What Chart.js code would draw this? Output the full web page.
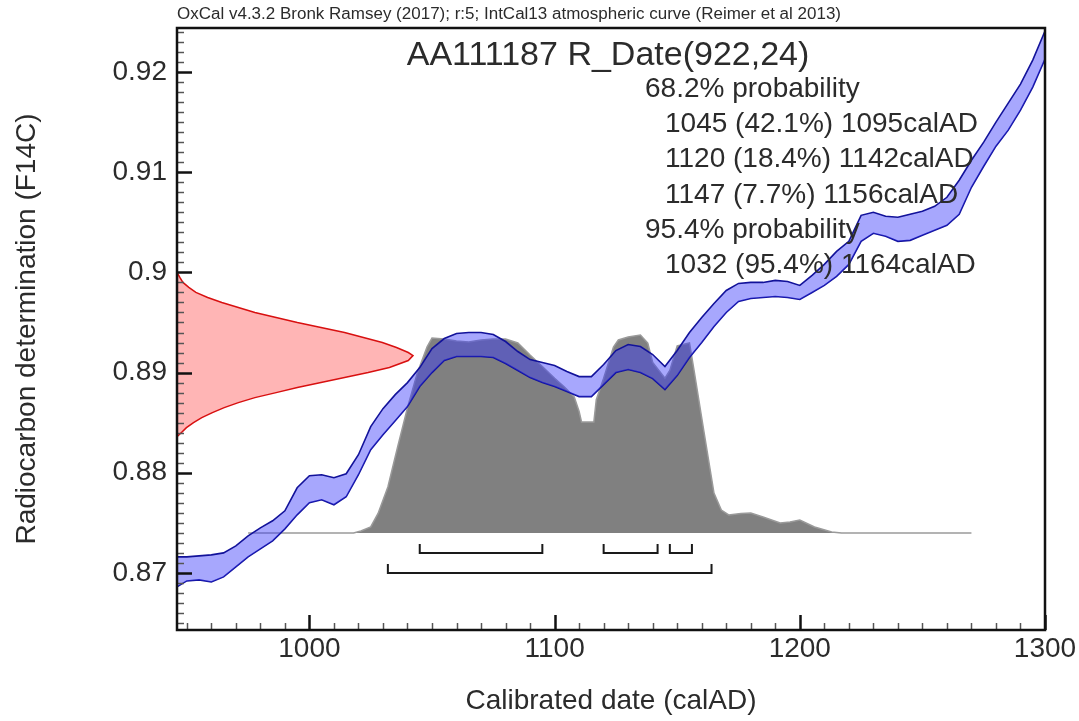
<!DOCTYPE html>
<html>
<head>
<meta charset="utf-8">
<title>AA111187 R_Date(922,24)</title>
<script src="https://cdn.jsdelivr.net/npm/chart.js@4.4.1/dist/chart.umd.min.js"></script>
<style>
  html, body { margin: 0; padding: 0; background: #ffffff; }
  canvas { display: block; }
</style>
</head>
<body>
<canvas id="c" width="1079" height="721"></canvas>
<script>
// IntCal13 calibration curve band (F14C), upper and lower 1-sigma edges
const curveYears = [946, 950, 955, 960, 965, 970, 975, 980, 985, 990, 995, 1000, 1005, 1010, 1015, 1020, 1025, 1030,
  1035, 1040, 1045, 1050, 1055, 1060, 1065, 1070, 1075, 1080, 1085, 1090, 1095, 1100, 1105, 1110, 1115, 1120, 1125,
  1130, 1135, 1140, 1145, 1150, 1155, 1160, 1165, 1170, 1175, 1180, 1185, 1190, 1195, 1200, 1205, 1210, 1215, 1220,
  1225, 1230, 1235, 1240, 1245, 1250, 1255, 1260, 1265, 1270, 1275, 1280, 1285, 1290, 1295, 1300];
const curveUpper = [0.8716, 0.8716, 0.8717, 0.8718, 0.8720, 0.8727, 0.8737, 0.8745, 0.8752, 0.8762, 0.8785, 0.8797,
  0.8798, 0.8795, 0.8799, 0.8818, 0.8846, 0.8864, 0.8878, 0.8890, 0.8905, 0.8924, 0.8934, 0.8939, 0.8940, 0.8940,
  0.8938, 0.8931, 0.8921, 0.8913, 0.8910, 0.8907, 0.8901, 0.8896, 0.8896, 0.8908, 0.8922, 0.8928, 0.8926, 0.8918,
  0.8906, 0.8922, 0.8940, 0.8955, 0.8969, 0.8982, 0.8989, 0.8990, 0.8990, 0.8992, 0.8991, 0.8987, 0.8997, 0.9008,
  0.9021, 0.9031, 0.9057, 0.9060, 0.9056, 0.9055, 0.9058, 0.9061, 0.9066, 0.9075, 0.9092, 0.9112, 0.9130, 0.9150,
  0.9169, 0.9188, 0.9212, 0.9241];
const curveLower = [0.8686, 0.8692, 0.8693, 0.8691, 0.8696, 0.8706, 0.8716, 0.8724, 0.8732, 0.8744, 0.8758, 0.8770,
  0.8773, 0.8768, 0.8776, 0.8798, 0.8823, 0.8838, 0.8852, 0.8866, 0.8886, 0.8900, 0.8912, 0.8916, 0.8916, 0.8916,
  0.8915, 0.8909, 0.8902, 0.8895, 0.8890, 0.8886, 0.8881, 0.8876, 0.8876, 0.8888, 0.8900, 0.8903, 0.8900, 0.8894,
  0.8883, 0.8897, 0.8915, 0.8930, 0.8946, 0.8960, 0.8971, 0.8974, 0.8975, 0.8976, 0.8975, 0.8973, 0.8980, 0.8987,
  0.8996, 0.9008, 0.9031, 0.9039, 0.9036, 0.9031, 0.9032, 0.9037, 0.9042, 0.9047, 0.9058, 0.9085, 0.9106, 0.9126,
  0.9142, 0.9162, 0.9185, 0.9213];

// Calibrated date distribution (relative probability, peak = 1)
const postYears = [975, 1018, 1021, 1025, 1028, 1032, 1036, 1040, 1044, 1048, 1050, 1055, 1060, 1065, 1070, 1075,
  1080, 1085, 1090, 1095, 1100, 1104, 1108, 1110, 1111, 1116, 1117, 1120, 1124, 1126, 1130, 1135, 1138, 1140, 1145,
  1147, 1150, 1155, 1157, 1161, 1165, 1168, 1171, 1176, 1180, 1185, 1192, 1196, 1200, 1206, 1213, 1217, 1270];
const postDensity = [0, 0, 0.01, 0.031, 0.10, 0.235, 0.44, 0.64, 0.816, 0.95, 0.995, 0.99, 0.98, 0.975, 0.985, 0.99,
  0.99, 0.97, 0.908, 0.85, 0.79, 0.745, 0.694, 0.62, 0.566, 0.566, 0.68, 0.79, 0.949, 0.985, 1.0, 1.01, 0.969, 0.87,
  0.79, 0.83, 0.955, 0.97, 0.82, 0.51, 0.204, 0.117, 0.092, 0.10, 0.102, 0.082, 0.051, 0.056, 0.066, 0.031, 0.005, 0, 0];

// Radiocarbon measurement likelihood (F14C against relative density)
const likeF14C = [0.9000, 0.8995, 0.8990, 0.8985, 0.8980, 0.8975, 0.8970, 0.8965, 0.8960, 0.8955, 0.8950, 0.8945,
  0.8940, 0.8935, 0.8930, 0.8925, 0.8920, 0.8917, 0.8912, 0.8905, 0.8900, 0.8895, 0.8890, 0.8885, 0.8880, 0.8875,
  0.8870, 0.8865, 0.8860, 0.8855, 0.8850, 0.8845, 0.8840, 0.8836];
const likeDensity = [0, 0.012, 0.025, 0.05, 0.08, 0.13, 0.19, 0.26, 0.33, 0.42, 0.51, 0.61, 0.71, 0.79, 0.87, 0.93,
  0.98, 1.0, 0.98, 0.90, 0.81, 0.71, 0.61, 0.51, 0.42, 0.33, 0.26, 0.20, 0.15, 0.105, 0.07, 0.04, 0.018, 0];

// Highest probability density ranges (calAD)
const range68 = [[1045, 1095], [1120, 1142], [1147, 1156]];
const range95 = [[1032, 1164]];

// Axis labels
const xTickLabels = ['1000', '1100', '1200', '1300'];
const yTickLabels = ['0.87', '0.88', '0.89', '0.9', '0.91', '0.92'];

// Annotation text
const headerText = 'OxCal v4.3.2 Bronk Ramsey (2017); r:5; IntCal13 atmospheric curve (Reimer et al 2013)';
const sampleTitle = 'AA111187 R_Date(922,24)';
const rangeText = [
  { text: '68.2% probability', indent: 0 },
  { text: '1045 (42.1%) 1095calAD', indent: 1 },
  { text: '1120 (18.4%) 1142calAD', indent: 1 },
  { text: '1147 (7.7%) 1156calAD', indent: 1 },
  { text: '95.4% probability', indent: 0 },
  { text: '1032 (95.4%) 1164calAD', indent: 1 }
];

const FONT = "'Liberation Sans', Arial, sans-serif";

// Bracket polylines for the ranges, drawn on the probability axis below the baseline
function bracketPoints(ranges, lineLevel, tickLevel) {
  const pts = [];
  ranges.forEach(([a, b]) => {
    pts.push({ x: a, y: tickLevel }, { x: a, y: lineLevel }, { x: b, y: lineLevel }, { x: b, y: tickLevel });
    pts.push({ x: b, y: null });
  });
  return pts;
}

// Inward tick marks and the plot frame
const frameAndTicks = {
  id: 'frameAndTicks',
  afterDatasetsDraw(chart) {
    const { ctx, chartArea: a, scales } = chart;
    ctx.save();
    scales.y.ticks.forEach(t => {
      const py = Math.round(scales.y.getPixelForValue(t.value)) + 0.5;
      const major = t.label !== '';
      ctx.strokeStyle = major ? '#111' : '#555';
      ctx.lineWidth = major ? 2.5 : 1.5;
      ctx.beginPath();
      ctx.moveTo(a.left, py);
      ctx.lineTo(a.left + (major ? 15 : 7), py);
      ctx.stroke();
    });
    scales.x.ticks.forEach(t => {
      const px = Math.round(scales.x.getPixelForValue(t.value)) + 0.5;
      const major = t.label !== '';
      ctx.strokeStyle = major ? '#111' : '#555';
      ctx.lineWidth = major ? 2.5 : 1.5;
      ctx.beginPath();
      ctx.moveTo(px, a.bottom);
      ctx.lineTo(px, a.bottom - (major ? 15 : 7));
      ctx.stroke();
    });
    ctx.strokeStyle = '#111';
    ctx.lineWidth = 2.5;
    ctx.strokeRect(a.left, a.top, a.right - a.left, a.bottom - a.top);
    ctx.restore();
  }
};

// Header, sample name and range listing
const annotations = {
  id: 'annotations',
  afterDraw(chart) {
    const { ctx, chartArea: a } = chart;
    ctx.save();
    ctx.fillStyle = '#2b2b2b';
    ctx.textBaseline = 'alphabetic';

    ctx.font = '15px ' + FONT;
    const w = ctx.measureText(headerText).width;
    const target = 664;
    ctx.save();
    ctx.translate(a.left, 19);
    ctx.scale(target / w, 1.15);
    ctx.fillText(headerText, 0, 0);
    ctx.restore();

    ctx.font = '34px ' + FONT;
    ctx.textAlign = 'center';
    ctx.fillText(sampleTitle, 608, 65);

    ctx.font = '28px ' + FONT;
    ctx.textAlign = 'left';
    rangeText.forEach((r, i) => {
      ctx.fillText(r.text, r.indent ? 665 : 645, 97 + i * 35.2);
    });
    ctx.restore();
  }
};

const bandFill = 'rgba(55, 55, 250, 0.44)';
const bandEdge = '#12129a';

new Chart(document.getElementById('c'), {
  type: 'line',
  data: {
    datasets: [
      {
        label: 'posterior',
        data: postYears.map((x, i) => ({ x, y: postDensity[i] })),
        xAxisID: 'x', yAxisID: 'y2',
        borderColor: '#9a9a9a', borderWidth: 1.5,
        backgroundColor: '#808080',
        fill: 'origin', pointRadius: 0, tension: 0, order: 4
      },
      {
        label: 'curve upper',
        data: curveYears.map((x, i) => ({ x, y: curveUpper[i] })),
        xAxisID: 'x', yAxisID: 'y',
        borderColor: bandEdge, borderWidth: 1.6,
        backgroundColor: bandFill,
        fill: '+1', pointRadius: 0, tension: 0, order: 3
      },
      {
        label: 'curve lower',
        data: curveYears.map((x, i) => ({ x, y: curveLower[i] })),
        xAxisID: 'x', yAxisID: 'y',
        borderColor: bandEdge, borderWidth: 1.6,
        fill: false, pointRadius: 0, tension: 0, order: 3
      },
      {
        label: 'measurement',
        data: likeF14C.map((y, i) => ({ x: likeDensity[i], y })),
        xAxisID: 'x2', yAxisID: 'y',
        borderColor: '#d81010', borderWidth: 1.5,
        backgroundColor: 'rgba(255, 60, 60, 0.38)',
        fill: 'shape', pointRadius: 0, tension: 0, order: 2
      },
      {
        label: '68.2%',
        data: bracketPoints(range68, -0.102, -0.056),
        xAxisID: 'x', yAxisID: 'y2',
        borderColor: '#1a1a1a', borderWidth: 2,
        fill: false, pointRadius: 0, tension: 0, spanGaps: false, order: 1
      },
      {
        label: '95.4%',
        data: bracketPoints(range95, -0.204, -0.158),
        xAxisID: 'x', yAxisID: 'y2',
        borderColor: '#1a1a1a', borderWidth: 2,
        fill: false, pointRadius: 0, tension: 0, spanGaps: false, order: 1
      }
    ]
  },
  options: {
    responsive: false,
    animation: false,
    devicePixelRatio: 1,
    layout: { padding: { top: 28, right: 34, bottom: 0, left: 0 } },
    plugins: { legend: { display: false }, tooltip: { enabled: false }, title: { display: false } },
    scales: {
      x: {
        type: 'linear', min: 946, max: 1300,
        grid: { display: false, drawTicks: false },
        border: { display: false },
        ticks: {
          stepSize: 10, includeBounds: false, autoSkip: false, maxRotation: 0, padding: 2,
          color: '#2b2b2b', font: { family: FONT, size: 28 },
          callback: v => { const s = String(Math.round(v)); return xTickLabels.includes(s) ? s : ''; }
        },
        title: {
          display: true, text: 'Calibrated date (calAD)', color: '#2b2b2b',
          font: { family: FONT, size: 28 }, padding: { top: 0, bottom: 3 }
        },
        afterFit: s => { s.height = 91; }
      },
      y: {
        type: 'linear', min: 0.8643, max: 0.9244,
        grid: { display: false, drawTicks: false },
        border: { display: false },
        ticks: {
          stepSize: 0.001, includeBounds: false, autoSkip: false, padding: 10,
          color: '#2b2b2b', font: { family: FONT, size: 28 },
          callback: v => { const s = String(Math.round(v * 1000) / 1000); return yTickLabels.includes(s) ? s : ''; }
        },
        title: {
          display: true, text: 'Radiocarbon determination (F14C)', color: '#2b2b2b',
          font: { family: FONT, size: 28 }, padding: { top: 10, bottom: 0 }
        },
        afterFit: s => { s.width = 177; }
      },
      x2: { type: 'linear', display: false, min: 0, max: 3.678 },
      y2: { type: 'linear', display: false, min: -0.495, max: 2.577 }
    }
  },
  plugins: [frameAndTicks, annotations]
});
</script>
</body>
</html>
